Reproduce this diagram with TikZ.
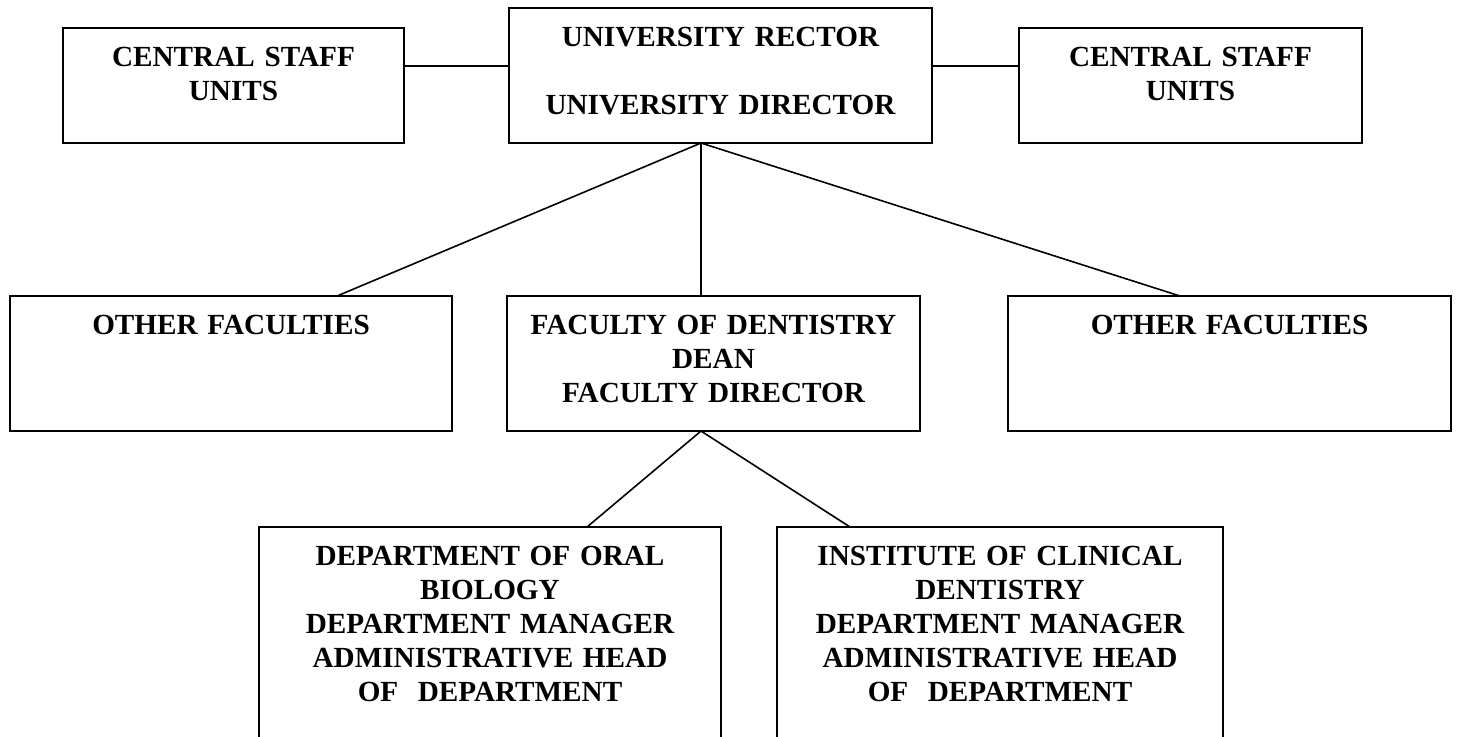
\documentclass[tikz,border=0pt]{standalone}
\usepackage{fontspec}
\setmainfont{Liberation Serif}
\begin{document}
\begin{tikzpicture}[
  x=0.5pt,y=-0.5pt,
  font=\fontsize{14.6pt}{17pt}\selectfont\bfseries,
  box/.style={draw,line width=0.8pt,align=center,inner sep=0pt,outer sep=0pt,
    anchor=north,text height=19pt},
  link/.style={line width=0.8pt,line cap=round,line join=round}
]
  \clip (0,0) rectangle (1457,736);
  \node[box,text width=170.5pt,text depth=38.5pt] (staff-left) at (233.5,28)
    {CENTRAL STAFF\\UNITS};
  \node[box,text width=211.5pt,text depth=48.5pt] (rector) at (720.5,8)
    {UNIVERSITY RECTOR\\[17pt]
     UNIVERSITY DIRECTOR};
  \node[box,text width=171.5pt,text depth=38.5pt] (staff-right) at (1190.5,28)
    {CENTRAL STAFF\\UNITS};

  \node[box,text width=221pt,text depth=48.5pt] (other-left) at (231,296)
    {OTHER FACULTIES};
  \node[box,text width=206.5pt,text depth=48.5pt] (dentistry) at (713.5,296)
    {FACULTY OF DENTISTRY\\DEAN\\FACULTY DIRECTOR};
  \node[box,text width=221.5pt,text depth=48.5pt] (other-right) at (1229.5,296)
    {OTHER FACULTIES};

  \node[box,text width=231pt,text depth=97.5pt] (oral-biology) at (490,527)
    {DEPARTMENT OF ORAL\\BIOLOGY\\DEPARTMENT MANAGER\\
     ADMINISTRATIVE HEAD\\OF\ \ DEPARTMENT};
  \node[box,text width=223pt,text depth=97.5pt] (clinical) at (1000,527)
    {INSTITUTE OF CLINICAL\\DENTISTRY\\DEPARTMENT MANAGER\\
     ADMINISTRATIVE HEAD\\OF\ \ DEPARTMENT};

  \draw[link] ([yshift=9.75pt]staff-left.east) -- ([yshift=4.75pt]rector.west);
  \draw[link] ([yshift=4.75pt]rector.east) -- ([yshift=9.75pt]staff-right.west);

  \draw[link] ([xshift=-9.75pt]rector.south) -- ([xshift=53pt]other-left.north);
  \draw[link] ([xshift=-9.75pt]rector.south) -- ([xshift=-6.25pt]dentistry.north);
  \draw[link] ([xshift=-9.75pt]rector.south) -- ([xshift=-24.75pt]other-right.north);

  \draw[link] ([xshift=-6.25pt]dentistry.south) -- ([xshift=48.5pt]oral-biology.north);
  \draw[link] ([xshift=-6.25pt]dentistry.south) -- ([xshift=-75pt]clinical.north);
\end{tikzpicture}
\end{document}
